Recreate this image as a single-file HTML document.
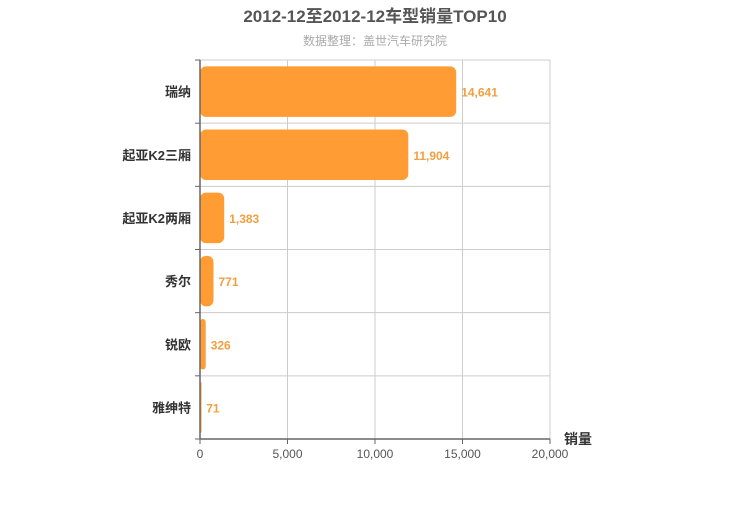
<!DOCTYPE html>
<html><head><meta charset="utf-8"><style>
body{margin:0;background:#fff;width:750px;height:500px;overflow:hidden}
svg text{font-family:"Liberation Sans","Noto Sans CJK SC",sans-serif}
</style></head><body>
<svg width="750" height="500">
<text x="375" y="22" text-anchor="middle" font-size="17" font-weight="bold" fill="#555">2012-12至2012-12车型销量TOP10</text>
<text x="375" y="45" text-anchor="middle" font-size="12" fill="#aaa">数据整理：盖世汽车研究院</text>
<g id="grid"></g><g id="bars"></g><g id="axes"></g>
<text x="564" y="444" font-size="14" font-weight="bold" fill="#333">销量</text>
</svg>
<script>
const categories=["瑞纳","起亚K2三厢","起亚K2两厢","秀尔","锐欧","雅绅特"];
const values=[14641,11904,1383,771,326,71];
const xTicks=[0,5000,10000,15000,20000];
const ns="http://www.w3.org/2000/svg";
const X0=200,X1=550,Y0=60,Y1=439,XMAX=20000;
const xs=v=>X0+(X1-X0)*v/XMAX;
const band=(Y1-Y0)/categories.length;
function mk(t,a,p){const e=document.createElementNS(ns,t);for(const k in a)e.setAttribute(k,a[k]);p.appendChild(e);return e;}
const g=document.getElementById('grid'),b=document.getElementById('bars'),ax=document.getElementById('axes');
xTicks.forEach(t=>{
 const l=mk('line',{x1:xs(t),x2:xs(t),y1:Y0,y2:Y1,stroke:'#ccc'},g);
 
 
 const tx=mk('text',{x:xs(t),y:Y1+19,'text-anchor':'middle','font-size':12,fill:'#555'},ax);
 tx.textContent=t.toLocaleString('en-US');
 
 
 mk('line',{x1:xs(t),x2:xs(t),y1:Y1,y2:Y1+5,stroke:'#666'},ax);
});
for(let i=0;i<=categories.length;i++){
 const y=Y0+band*i;
 const l=mk('line',{x1:X0,x2:X1,y1:y,y2:y,stroke:'#ccc'},g);
 
 
 mk('line',{x1:X0-5,x2:X0,y1:y,y2:y,stroke:'#666'},ax);
}
categories.forEach((c,i)=>{
 const yc=Y0+band*(i+0.5),h=band*0.8,w=xs(values[i])-X0;
 const r=mk('rect',{x:X0,y:yc-h/2,width:Math.max(w,1.5),height:h,rx:Math.min(6,w/2),fill:'#ff9c33'},b);
 
 
 const v=mk('text',{x:X0+w+5,y:yc+5,'font-size':12,'font-weight':'bold',fill:'#f0a040'},b);
 v.textContent=values[i].toLocaleString('en-US');
 
 
 const t=mk('text',{x:X0-9,y:yc+5,'text-anchor':'end','font-size':13,'font-weight':'bold',fill:'#333'},ax);
 t.textContent=c;
 
 
});
mk('line',{x1:X0,x2:X0,y1:Y0,y2:Y1,stroke:'#666','stroke-width':1.5},ax);
mk('line',{x1:X0,x2:X1,y1:Y1,y2:Y1,stroke:'#666','stroke-width':1.5},ax);
</script>
</body></html>
